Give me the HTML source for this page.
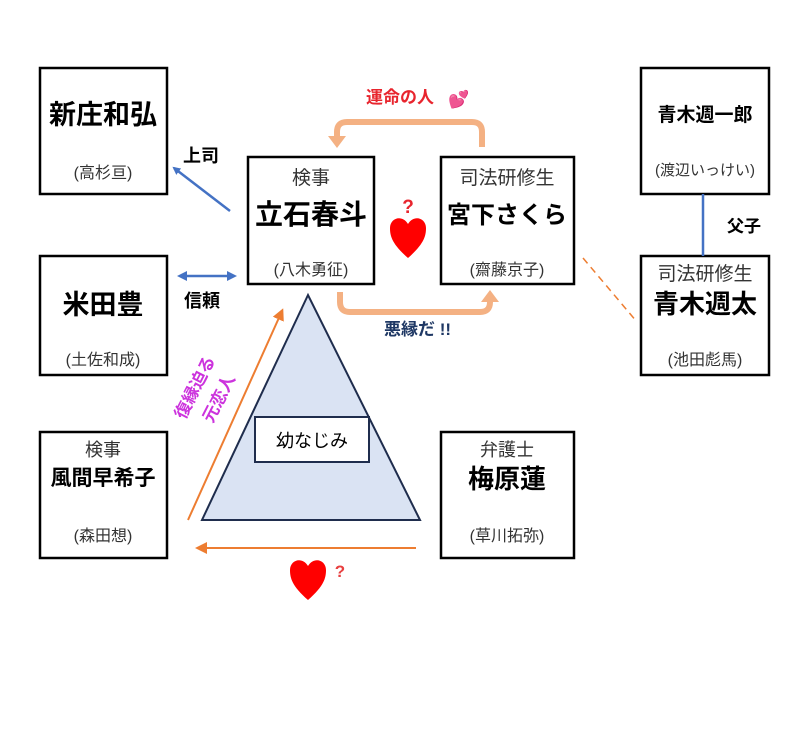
<!DOCTYPE html>
<html><head><meta charset="utf-8"><style>
body{margin:0;background:#fff;width:807px;height:736px;overflow:hidden}
svg text{font-family:"Liberation Sans","Noto Sans CJK JP",sans-serif}
</style></head><body>
<svg width="807" height="736" viewBox="0 0 807 736" xmlns="http://www.w3.org/2000/svg">
<defs>
<marker id="ab" markerWidth="8" markerHeight="8" refX="6" refY="4" orient="auto" markerUnits="userSpaceOnUse"><path d="M0,0 L8,4 L0,8 Z" fill="#4472c4"/></marker>
<marker id="ab2" markerWidth="10" markerHeight="10" refX="7" refY="5" orient="auto-start-reverse" markerUnits="userSpaceOnUse"><path d="M0,0 L10,5 L0,10 Z" fill="#4472c4"/></marker>
<marker id="ao" markerWidth="12" markerHeight="12" refX="9" refY="6" orient="auto" markerUnits="userSpaceOnUse"><path d="M0,0 L12,6 L0,12 Z" fill="#ed7d31"/></marker>
</defs>
<g fill="none" stroke="#000" stroke-width="2.5">
<rect x="40" y="68" width="127" height="126"/>
<rect x="40" y="256" width="127" height="119"/>
<rect x="40" y="432" width="127" height="126"/>
<rect x="248" y="157" width="126" height="127"/>
<rect x="441" y="157" width="133" height="127"/>
<rect x="441" y="432" width="133" height="126"/>
<rect x="641" y="68" width="128" height="126"/>
<rect x="641" y="256" width="128" height="119"/>
</g>
<polygon points="308,295 202,520 420,520" fill="#dae3f3" stroke="#1f2d4d" stroke-width="2"/>
<rect x="255" y="417" width="114" height="45" fill="#fff" stroke="#1f2d4d" stroke-width="2"/>
<text x="312" y="447" font-size="18" text-anchor="middle">幼なじみ</text>
<line x1="230" y1="211" x2="174" y2="168" stroke="#4472c4" stroke-width="2.5" marker-end="url(#ab)"/>
<line x1="180" y1="276" x2="234" y2="276" stroke="#4472c4" stroke-width="2.5" marker-start="url(#ab2)" marker-end="url(#ab2)"/>
<line x1="703" y1="194" x2="703" y2="256" stroke="#4472c4" stroke-width="2.5"/>
<path d="M482,147 V132 Q482,122 472,122 H347 Q337,122 337,132 V138" fill="none" stroke="#f4b183" stroke-width="6"/>
<path d="M328,136 L346,136 L337,148 Z" fill="#f4b183"/>
<path d="M340,292 V302 Q340,312 350,312 H480 Q490,312 490,302 V300" fill="none" stroke="#f4b183" stroke-width="6"/>
<path d="M481,302 L499,302 L490,290 Z" fill="#f4b183"/>
<line x1="583" y1="258" x2="637" y2="322" stroke="#ed7d31" stroke-width="1.5" stroke-dasharray="7,5"/>
<line x1="188" y1="520" x2="282" y2="311" stroke="#ed7d31" stroke-width="2" marker-end="url(#ao)"/>
<line x1="416" y1="548" x2="198" y2="548" stroke="#ed7d31" stroke-width="2" marker-end="url(#ao)"/>
<g text-anchor="middle">
<text x="103" y="124" font-size="27" font-weight="bold">新庄和弘</text>
<text x="103" y="178" font-size="16" fill="#333">(高杉亘)</text>
<text x="103" y="314" font-size="27" font-weight="bold">米田豊</text>
<text x="103" y="365" font-size="16" fill="#333">(土佐和成)</text>
<text x="103" y="456" font-size="18" fill="#333">検事</text>
<text x="103" y="485" font-size="21" font-weight="bold">風間早希子</text>
<text x="103" y="541" font-size="16" fill="#333">(森田想)</text>
<text x="311" y="184" font-size="19" fill="#333">検事</text>
<text x="311" y="224" font-size="28" font-weight="bold">立石春斗</text>
<text x="311" y="275" font-size="16" fill="#333">(八木勇征)</text>
<text x="507" y="184" font-size="19" fill="#333">司法研修生</text>
<text x="507" y="223" font-size="24" font-weight="bold">宮下さくら</text>
<text x="507" y="275" font-size="16" fill="#333">(齋藤京子)</text>
<text x="507" y="456" font-size="18" fill="#333">弁護士</text>
<text x="507" y="488" font-size="26" font-weight="bold">梅原蓮</text>
<text x="507" y="541" font-size="16" fill="#333">(草川拓弥)</text>
<text x="705" y="121" font-size="19" font-weight="bold">青木週一郎</text>
<text x="705" y="175" font-size="15" fill="#333">(渡辺いっけい)</text>
<text x="705" y="280" font-size="19" fill="#333">司法研修生</text>
<text x="705" y="313" font-size="26" font-weight="bold">青木週太</text>
<text x="705" y="365" font-size="16" fill="#333">(池田彪馬)</text>
</g>
<text x="183" y="162" font-size="18" font-weight="bold">上司</text>
<text x="184" y="307" font-size="18" font-weight="bold">信頼</text>
<text x="727" y="232" font-size="17" font-weight="bold">父子</text>
<text x="366" y="103" font-size="17" font-weight="bold" fill="#e8252e">運命の人</text>
<text x="448" y="105" font-size="17" fill="#e8407a">💕</text>
<text x="384" y="335" font-size="17" font-weight="bold" fill="#1f3864">悪縁だ !!</text>
<g transform="translate(200,390) rotate(-63)"><text x="0" y="0" font-size="17" font-weight="bold" fill="#cc33dd" text-anchor="middle">復縁迫る</text></g>
<g transform="translate(224,401) rotate(-63)"><text x="0" y="0" font-size="17" font-weight="bold" fill="#cc33dd" text-anchor="middle">元恋人</text></g>
<path d="M408,258 C392,244 390,236 390,228 C390,218 402,214 408,224 C414,214 426,218 426,228 C426,236 424,244 408,258 Z" fill="#f00"/>
<text x="408" y="213" font-size="19" font-weight="bold" fill="#e8252e" text-anchor="middle">?</text>
<path d="M308,600 C292,586 290,578 290,570 C290,560 302,556 308,566 C314,556 326,560 326,570 C326,578 324,586 308,600 Z" fill="#f00"/>
<text x="340" y="577" font-size="17" font-weight="bold" fill="#e84040" text-anchor="middle">?</text>
</svg>
</body></html>
